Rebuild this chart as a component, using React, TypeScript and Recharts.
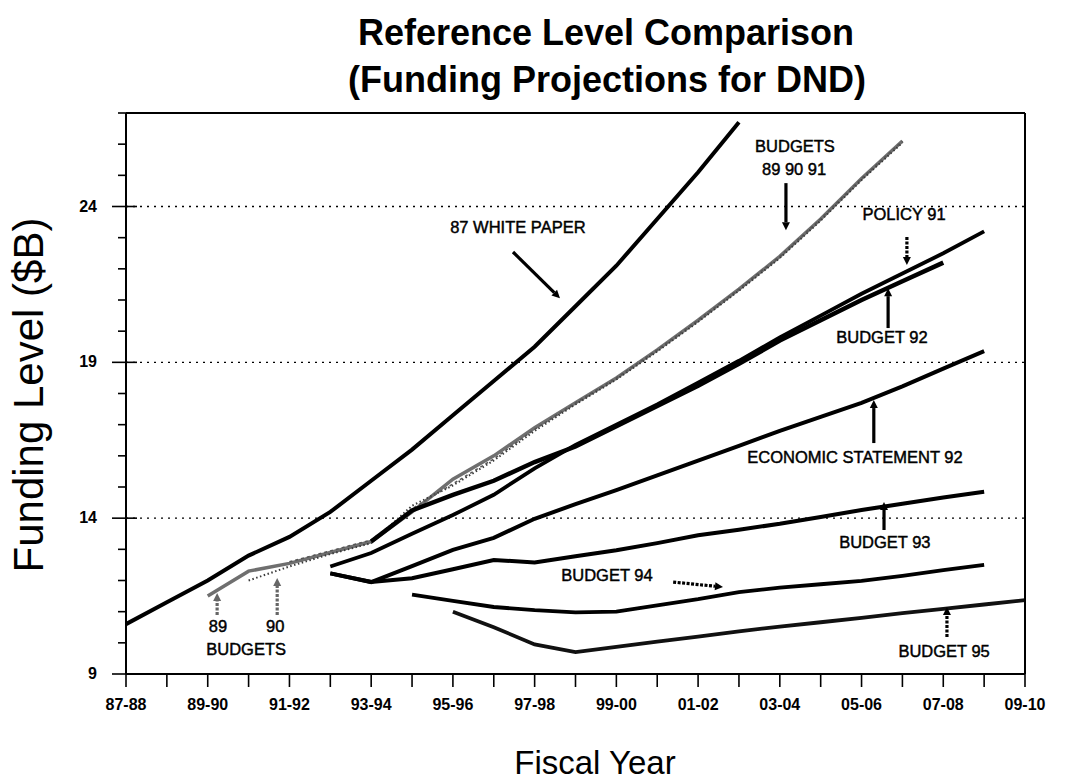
import React from 'react';
import {
  LineChart,
  Line,
  XAxis,
  YAxis,
  ReferenceLine,
  ReferenceDot,
} from 'recharts';

const FONT = '"Liberation Sans", Arial, Helvetica, sans-serif';

// fiscal years on the x axis
const YEARS = [
  '87-88', '88-89', '89-90', '90-91', '91-92', '92-93', '93-94', '94-95',
  '95-96', '96-97', '97-98', '98-99', '99-00', '00-01', '01-02', '02-03',
  '03-04', '04-05', '05-06', '06-07', '07-08', '08-09', '09-10',
];

const Y_TICKS = [9, 10, 11, 12, 13, 14, 15, 16, 17, 18, 19, 20, 21, 22, 23, 24, 25, 26, 27];
const Y_LABELS = [9, 14, 19, 24];

// funding level in $B, each series starts at its first fiscal year
const WHITE_PAPER_87 = [10.6, 11.3, 12.0, 12.8, 13.4, 14.2, 15.2, 16.2, 17.3, 18.4, 19.5, 20.8, 22.1, 23.6, 25.1, 26.7];
const BUDGET_89 = [11.5, 12.3, 12.55, 12.9, 13.25, 14.2, 15.25, 16.0, 16.9, 17.7, 18.5, 19.4, 20.35, 21.35, 22.4, 23.6, 24.9, 26.1];
const BUDGET_90 = [12.0, 12.45, 12.85, 13.2, 14.4, 15.05, 15.85, 16.8, 17.65, 18.45, 19.35, 20.3, 21.3, 22.35, 23.55, 24.85, 26.05];
const BUDGET_91 = [12.6, 12.95, 13.3, 14.3, 15.1, 15.9, 16.85, 17.7, 18.5, 19.4, 20.35, 21.35, 22.4, 23.6, 24.9, 26.1];
const POLICY_91 = [13.25, 14.25, 14.75, 15.2, 15.8, 16.3, 16.95, 17.6, 18.25, 18.95, 19.7, 20.35, 21.0, 21.6, 22.2];
const BUDGET_92 = [12.45, 12.88, 13.5, 14.1, 14.75, 15.6, 16.35, 17.0, 17.65, 18.35, 19.05, 19.8, 20.5, 21.2, 21.85, 22.5, 23.2];
const ECON_STATEMENT_92 = [12.23, 11.95, 12.46, 12.98, 13.37, 13.98, 14.45, 14.9, 15.37, 15.85, 16.32, 16.8, 17.25, 17.7, 18.23, 18.8, 19.36];
const BUDGET_93 = [12.23, 11.95, 12.07, 12.36, 12.66, 12.58, 12.78, 12.97, 13.2, 13.45, 13.63, 13.82, 14.04, 14.26, 14.46, 14.66, 14.85];
const BUDGET_94 = [11.55, 11.35, 11.15, 11.05, 10.98, 11.0, 11.2, 11.4, 11.63, 11.77, 11.88, 11.99, 12.15, 12.33, 12.5];
const BUDGET_95 = [11.0, 10.5, 9.95, 9.7, 9.87, 10.04, 10.2, 10.37, 10.52, 10.66, 10.8, 10.95, 11.09, 11.23, 11.37];

const SERIES = [
  { key: 'b89', values: BUDGET_89, start: '89-90', stroke: '#6f6f6f', width: 3.5, dash: undefined },
  { key: 'b90', values: BUDGET_90, start: '90-91', stroke: '#3a3a3a', width: 2, dash: '1.5 2.5' },
  { key: 'b91', values: BUDGET_91, start: '91-92', stroke: '#555555', width: 1.5, dash: '3 3' },
  { key: 'wp87', values: WHITE_PAPER_87, start: '87-88', stroke: '#000', width: 4, dash: undefined },
  { key: 'p91', values: POLICY_91, start: '93-94', stroke: '#000', width: 4.5, dash: undefined },
  { key: 'b92', values: BUDGET_92, start: '92-93', stroke: '#000', width: 3.8, dash: undefined },
  { key: 'es92', values: ECON_STATEMENT_92, start: '92-93', stroke: '#000', width: 4, dash: undefined },
  { key: 'b93', values: BUDGET_93, start: '92-93', stroke: '#000', width: 4, dash: undefined },
  { key: 'b94', values: BUDGET_94, start: '94-95', stroke: '#000', width: 3.8, dash: undefined },
  { key: 'b95', values: BUDGET_95, start: '95-96', stroke: '#111', width: 3.8, dash: undefined },
];

const data = YEARS.map((year, i) => {
  const row: Record<string, number | string> = { x: i, year };
  SERIES.forEach((s) => {
    const k = i - YEARS.indexOf(s.start);
    if (k >= 0 && k < s.values.length) row[s.key] = s.values[k];
  });
  return row;
});

// annotation anchors in chart units (x = year index, y = $B)
const NOTES = [
  { text: '87 WHITE PAPER', x: 9.59, y: 23.15 },
  { text: 'BUDGETS', x: 16.37, y: 25.75 },
  { text: '89 90 91', x: 16.35, y: 25.01 },
  { text: 'POLICY 91', x: 19.04, y: 23.57 },
  { text: 'BUDGET 92', x: 18.5, y: 19.62 },
  { text: 'ECONOMIC STATEMENT 92', x: 17.84, y: 15.77 },
  { text: 'BUDGET 93', x: 18.57, y: 13.04 },
  { text: 'BUDGET 94', x: 11.77, y: 11.98 },
  { text: 'BUDGET 95', x: 20.02, y: 9.55 },
  { text: '89', x: 2.25, y: 10.35 },
  { text: '90', x: 3.65, y: 10.35 },
  { text: 'BUDGETS', x: 2.94, y: 9.61 },
];

const ARROWS = [
  { from: [9.47, 22.54], to: [10.62, 21.06], gray: false, dashed: false },
  { from: [16.15, 24.75], to: [16.15, 23.24], gray: false, dashed: false },
  { from: [19.11, 23.02], to: [19.11, 22.12], gray: false, dashed: true },
  { from: [18.65, 20.1], to: [18.65, 21.38], gray: false, dashed: false },
  { from: [18.3, 16.41], to: [18.3, 17.79], gray: false, dashed: false },
  { from: [18.55, 13.62], to: [18.55, 14.52], gray: false, dashed: false },
  { from: [13.39, 11.95], to: [14.61, 11.79], gray: false, dashed: true },
  { from: [20.09, 10.19], to: [20.09, 11.15], gray: false, dashed: true },
  { from: [2.23, 10.89], to: [2.23, 11.6], gray: true, dashed: true },
  { from: [3.7, 10.89], to: [3.7, 12.08], gray: true, dashed: true },
];

function Arrow(props: any) {
  const { x1, y1, x2, y2, stroke, strokeDasharray } = props;
  const a = Math.atan2(y2 - y1, x2 - x1);
  const len = 8;
  const half = 4;
  const bx = x2 - len * Math.cos(a);
  const by = y2 - len * Math.sin(a);
  const px = -Math.sin(a) * half;
  const py = Math.cos(a) * half;
  return (
    <g>
      <line x1={x1} y1={y1} x2={bx} y2={by} stroke={stroke} strokeWidth={3.2} strokeDasharray={strokeDasharray} />
      <polygon points={`${x2},${y2} ${bx + px},${by + py} ${bx - px},${by - py}`} fill={stroke} />
    </g>
  );
}

function LeftTick(props: any) {
  const { x, y, payload } = props;
  const major = Y_LABELS.includes(payload.value);
  return (
    <g>
      <line x1={major ? x - 14 : x - 8} x2={major ? x + 11 : x} y1={y} y2={y} stroke="#000" strokeWidth={1.6} />
      {major && (
        <text x={x - 29} y={y + 5} textAnchor="end" fontFamily={FONT} fontWeight="bold" fontSize={16} fill="#000">
          {payload.value}
        </text>
      )}
    </g>
  );
}

function RightTick(props: any) {
  const { x, y, payload } = props;
  const major = Y_LABELS.includes(payload.value);
  return (
    <g>
      <line x1={major ? x - 12 : x} x2={major ? x + 13 : x + 8} y1={y} y2={y} stroke="#000" strokeWidth={1.6} />
      {major && (
        <text x={x + 27} y={y + 5} textAnchor="start" fontFamily={FONT} fontWeight="bold" fontSize={16} fill="#000">
          {payload.value}
        </text>
      )}
    </g>
  );
}

function BottomTick(props: any) {
  const { x, y, payload } = props;
  const i = payload.value;
  return (
    <g>
      <line x1={x} x2={x} y1={y} y2={y + 13} stroke="#000" strokeWidth={1.6} />
      {i % 2 === 0 && (
        <text x={x} y={y + 36} textAnchor="middle" fontFamily={FONT} fontWeight="bold" fontSize={16} fill="#000">
          {YEARS[i]}
        </text>
      )}
    </g>
  );
}

export default function App() {
  return (
    <div style={{ position: 'absolute', left: 0, top: 0, width: 1084, height: 783, background: '#fff' }}>
      <LineChart
        width={1084}
        height={783}
        data={data}
        margin={{ top: 113, right: 0, bottom: 0, left: 0 }}
      >
        <XAxis
          dataKey="x"
          type="number"
          domain={[0, 22]}
          ticks={YEARS.map((_, i) => i)}
          interval={0}
          height={109}
          tickSize={0}
          tickMargin={0}
          tickLine={false}
          axisLine={{ stroke: '#000', strokeWidth: 2 }}
          tick={(p: any) => <BottomTick {...p} />}
        />
        <YAxis
          yAxisId="L"
          type="number"
          domain={[9, 27]}
          ticks={Y_TICKS}
          interval={0}
          width={126}
          tickSize={0}
          tickMargin={0}
          tickLine={false}
          axisLine={{ stroke: '#000', strokeWidth: 2 }}
          tick={(p: any) => <LeftTick {...p} />}
        />
        <YAxis
          yAxisId="R"
          orientation="right"
          type="number"
          domain={[9, 27]}
          ticks={Y_TICKS}
          interval={0}
          width={59}
          tickSize={0}
          tickMargin={0}
          tickLine={false}
          axisLine={{ stroke: '#000', strokeWidth: 2 }}
          tick={(p: any) => <RightTick {...p} />}
        />
        {Y_LABELS.slice(1).map((v) => (
          <ReferenceLine key={v} yAxisId="L" y={v} stroke="#000" strokeWidth={1.3} strokeDasharray="2 5" />
        ))}
        <ReferenceLine yAxisId="L" y={27} stroke="#000" strokeWidth={2} />
        {SERIES.map((s) => (
          <Line
            key={s.key}
            yAxisId="L"
            dataKey={s.key}
            type="linear"
            stroke={s.stroke}
            strokeWidth={s.width}
            strokeDasharray={s.dash}
            dot={false}
            activeDot={false}
            isAnimationActive={false}
          />
        ))}
        {ARROWS.map((a, i) => (
          <ReferenceLine
            key={`arrow-${i}`}
            yAxisId="L"
            segment={[
              { x: a.from[0], y: a.from[1] },
              { x: a.to[0], y: a.to[1] },
            ]}
            stroke={a.gray ? '#666' : '#000'}
            strokeDasharray={a.dashed ? '3 1.5' : undefined}
            shape={(p: any) => <Arrow {...p} />}
          />
        ))}
        {NOTES.map((n, i) => (
          <ReferenceDot
            key={`note-${i}`}
            yAxisId="L"
            x={n.x}
            y={n.y}
            r={0}
            shape={(p: any) => (
              <text
                x={p.cx}
                y={p.cy}
                textAnchor="middle"
                fontFamily={FONT}
                fontSize={16.5}
                fill="#000"
                stroke="#000"
                strokeWidth={0.45}
              >
                {n.text}
              </text>
            )}
          />
        ))}
      </LineChart>
      <svg
        width={1084}
        height={783}
        style={{ position: 'absolute', left: 0, top: 0, pointerEvents: 'none' }}
      >
        <text x={606} y={45} textAnchor="middle" fontFamily={FONT} fontWeight="bold" fontSize={36} fill="#000">
          Reference Level Comparison
        </text>
        <text x={607} y={92} textAnchor="middle" fontFamily={FONT} fontWeight="bold" fontSize={36} fill="#000">
          (Funding Projections for DND)
        </text>
        <text
          x={0}
          y={0}
          transform="translate(43, 395) rotate(-90)"
          textAnchor="middle"
          fontFamily={FONT}
          fontSize={42}
          fill="#000"
        >
          Funding Level ($B)
        </text>
        <text x={595} y={774} textAnchor="middle" fontFamily={FONT} fontSize={33} fill="#000">
          Fiscal Year
        </text>
      </svg>
    </div>
  );
}
